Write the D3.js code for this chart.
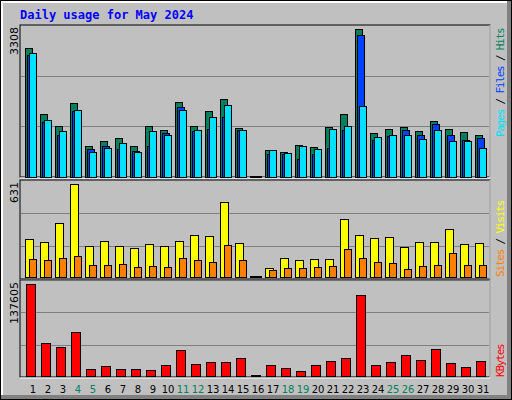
<!DOCTYPE html>
<html><head><meta charset="utf-8">
<script src="https://cdn.jsdelivr.net/npm/d3@7"></script>
<style>body{margin:0;background:#fff}</style>
</head><body>
<svg width="512" height="400"></svg>
<script>
var days = d3.range(1, 32);
var weekends = [4, 5, 11, 12, 18, 19, 25, 26];
var hits  = [2881,1400,1131,1647,682,794,862,682,1131,1041,1669,1131,1467,1737,1086,0,592,548,705,660,1108,1400,3308,974,1063,1108,1019,1243,1063,996,929];
var files = [2731,1228,936,1474,615,682,615,570,682,974,1557,1019,1063,1333,1041,0,502,502,390,502,637,1041,3173,817,907,1041,929,1176,929,817,862];
var pages = [2769,1266,1019,1490,548,637,750,548,1019,929,1490,1041,1333,1602,1041,0,592,525,682,615,1063,1131,1580,884,929,929,839,1041,794,794,637];
var visits = [255,235,364,631,207,241,207,194,221,207,241,282,276,508,228,0,57,125,112,118,118,392,282,262,269,200,235,235,323,221,228];
var sites  = [118,112,125,139,77,77,84,64,71,64,125,112,98,214,112,0,43,57,57,64,71,187,125,98,91,50,71,77,159,77,77];
var kbytes = [137605,48713,42687,65286,9542,14062,9542,9542,8035,15568,38167,17075,20088,20088,26114,0,15568,11048,6529,15568,21595,26114,121030,15568,20088,30634,23101,39674,18581,12555,21595];

var svg = d3.select("svg");
var font = "DejaVu Sans Mono, monospace";

// outer frame
svg.append("rect").attr("x",0).attr("y",0).attr("width",512).attr("height",400).attr("fill","#000");
svg.append("rect").attr("x",1).attr("y",1).attr("width",510).attr("height",398).attr("fill","#808080");
svg.append("rect").attr("x",1).attr("y",1).attr("width",506).attr("height",394).attr("fill","#fff");
svg.append("rect").attr("x",3).attr("y",3).attr("width",504).attr("height",392).attr("fill","#c0c0c0");

svg.append("text").attr("x",20).attr("y",19).attr("fill","#0000ff")
    .style("font-family",font).style("font-size","12px").style("font-weight","bold")
    .text("Daily usage for May 2024");

var x = d3.scaleBand().domain(days).range([25, 490]);

var panels = [
    {top:25, bottom:177, base:176.7, maxY:29.3, max:3308},
    {top:180, bottom:279, base:276.7, maxY:184.3, max:631},
    {top:280, bottom:377, base:375.7, maxY:284.3, max:137605}
];
panels.forEach(function(p) {
    p.y = d3.scaleLinear().domain([0, p.max]).range([p.base, p.maxY]);
    svg.append("rect").attr("x",20).attr("y",p.top).attr("width",470).attr("height",p.bottom-p.top)
        .attr("fill","none").attr("stroke","#000");
    svg.append("line").attr("x1",490).attr("x2",490).attr("y1",p.top).attr("y2",p.bottom+1).attr("stroke","#fff");
    svg.append("line").attr("x1",20).attr("x2",490).attr("y1",p.bottom+1).attr("y2",p.bottom+1).attr("stroke","#fff");
    var h = p.bottom - p.top;
    [1/3, 2/3].forEach(function(f) {
        svg.append("line").attr("x1",21).attr("x2",489)
            .attr("y1",Math.round(p.top + h*f)+0.5).attr("y2",Math.round(p.top + h*f)+0.5)
            .attr("stroke","#808080");
    });
    svg.append("text").attr("transform","translate(18," + (p.top+2) + ") rotate(-90)")
        .attr("text-anchor","end").style("font-family","DejaVu Sans, sans-serif").style("font-size","11px")
        .text(p.max);
});

function bars(data, panel, off, w, color) {
    var y = panel.y;
    svg.append("g").selectAll("rect").data(data).enter().append("rect")
        .attr("x", function(d, i) {return x(days[i]) + off + 0.5})
        .attr("y", function(d) {return Math.min(Math.round(y(d)), Math.round(panel.base) - 1) + 0.5})
        .attr("width", w)
        .attr("height", function(d) {return Math.max(1, Math.round(panel.base) - Math.round(y(d)))})
        .attr("fill", function(d) {return d > 0 ? color : "#000"}).attr("stroke","#000");
}
bars(hits, panels[0], 0, 7, "#00805c");
bars(files, panels[0], 2, 7, "#0040ff");
bars(pages, panels[0], 4, 7, "#00e0ff");
bars(visits, panels[1], 0, 8, "#ffff00");
bars(sites, panels[1], 4, 7, "#ff8000");
bars(kbytes, panels[2], 1, 9, "#ff0000");

// day labels
svg.append("g").selectAll("text").data(days).enter().append("text")
    .attr("x", function(d) {return x(d) + 8})
    .attr("y", 393).attr("text-anchor","middle")
    .attr("fill", function(d) {return weekends.indexOf(d) >= 0 ? "#00805c" : "#000"})
    .style("font-family","DejaVu Sans, sans-serif").style("font-size","10px")
    .text(function(d) {return d});

// right side legends
function legend(items, bottom) {
    var t = svg.append("text").attr("transform","translate(504," + bottom + ") rotate(-90)")
        .style("font-family",font).style("font-size","11px").style("letter-spacing","-1.2px");
    items.forEach(function(it, i) {
        if (i > 0) t.append("tspan").attr("fill","#000").text(" / ");
        t.append("tspan").attr("fill", it[1]).text(it[0]);
    });
}
legend([["Pages","#00e0ff"],["Files","#0040ff"],["Hits","#00805c"]], 137);
legend([["Sites","#ff8000"],["Visits","#ffff00"]], 277);
legend([["KBytes","#ff0000"]], 377);
</script>
</body></html>
